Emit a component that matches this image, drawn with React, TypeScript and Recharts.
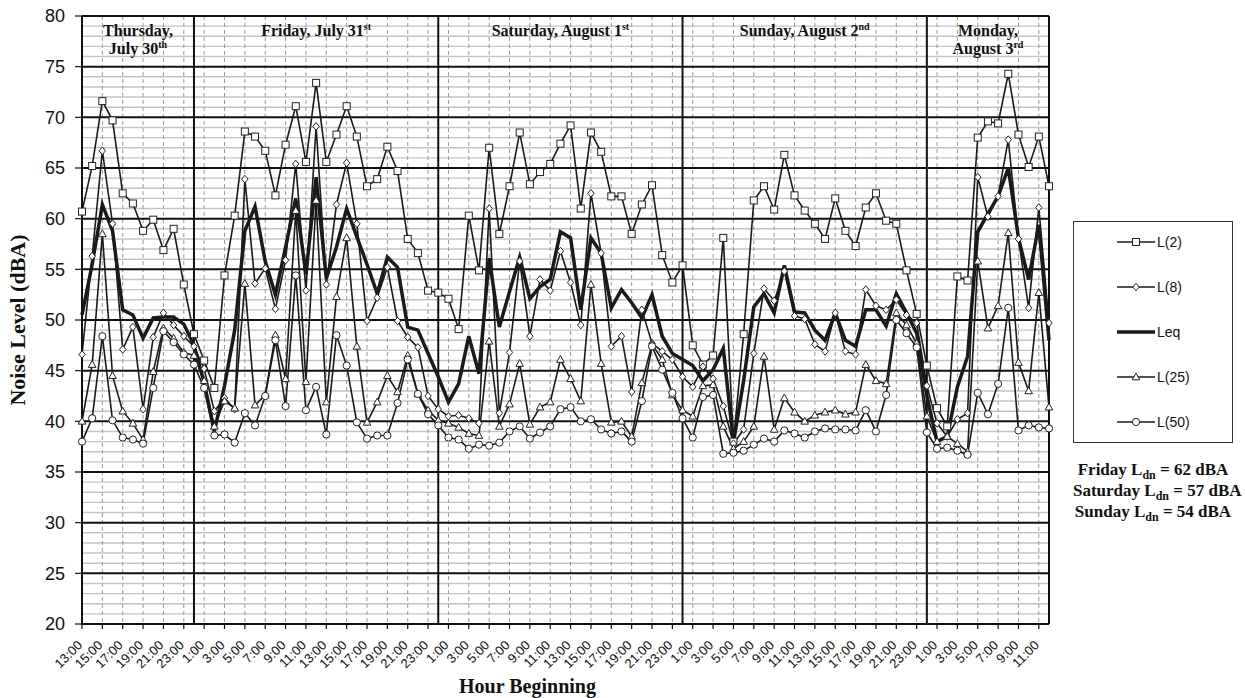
import React from 'react';
import { LineChart, Line, XAxis, YAxis, CartesianGrid, ReferenceArea, Legend } from 'recharts';

const DAY_HOURS = [
  '0:00', '1:00', '2:00', '3:00', '4:00', '5:00', '6:00', '7:00', '8:00', '9:00', '10:00', '11:00',
  '12:00', '13:00', '14:00', '15:00', '16:00', '17:00', '18:00', '19:00', '20:00', '21:00', '22:00', '23:00',
];
// Thursday 13:00 through Monday 12:00
const HOURS = [
  ...DAY_HOURS.slice(13),
  ...DAY_HOURS,
  ...DAY_HOURS,
  ...DAY_HOURS,
  ...DAY_HOURS.slice(0, 13),
];

const L2 = [
  60.7, 65.2, 71.6, 69.7, 62.5, 61.5, 58.8, 59.9, 56.9, 59.0, 53.5,
  48.6, 46.0, 43.3, 54.4, 60.3, 68.6, 68.1, 66.7, 62.3, 67.3, 71.1, 65.6, 73.4, 65.6, 68.3, 71.1, 68.1, 63.2, 63.9, 67.1, 64.7, 58.0, 56.6, 52.9,
  52.7, 52.1, 49.1, 60.3, 54.9, 67.0, 58.5, 63.2, 68.5, 63.4, 64.6, 65.4, 67.4, 69.2, 61.0, 68.5, 66.6, 62.2, 62.2, 58.5, 61.4, 63.3, 56.4, 53.7,
  55.4, 47.5, 45.6, 46.5, 58.1, 38.0, 48.6, 61.8, 63.2, 60.9, 66.3, 62.3, 60.8, 59.5, 58.0, 62.0, 58.8, 57.3, 61.1, 62.5, 59.8, 59.5, 54.9, 50.6,
  45.5, 41.3, 39.5, 54.3, 53.9, 68.0, 69.6, 69.4, 74.3, 68.3, 65.1, 68.1, 63.2,
];
const L8 = [
  46.6, 56.3, 66.7, 59.5, 47.1, 49.3, 41.2, 48.3, 50.7, 49.5, 48.4,
  47.4, 45.2, 41.0, 42.3, 41.2, 63.9, 53.6, 55.1, 51.1, 55.9, 65.4, 52.9, 69.1, 53.5, 61.4, 65.5, 59.5, 49.9, 52.2, 55.2, 49.9, 48.3, 47.3, 42.5,
  41.2, 40.5, 40.6, 40.3, 39.8, 61.0, 40.8, 46.8, 55.8, 48.4, 54.0, 52.9, 56.8, 53.7, 49.5, 62.5, 56.6, 47.4, 48.4, 42.9, 51.0, 47.7, 46.9, 46.1,
  44.4, 43.4, 45.4, 44.2, 41.5, 37.8, 39.2, 46.7, 53.1, 51.9, 54.8, 50.4, 50.1, 47.6, 46.9, 50.7, 46.9, 46.6, 53.0, 51.4, 51.0, 52.0, 50.5, 49.7,
  43.5, 39.8, 38.5, 40.2, 40.8, 64.1, 60.2, 62.2, 67.8, 58.0, 51.2, 61.1, 49.7,
];
const LEQ = [
  50.5, 55.5, 61.4, 58.8, 51.0, 50.5, 48.2, 50.2, 50.3, 50.3, 49.6,
  47.5, 43.8, 39.0, 43.5, 49.0, 58.8, 61.2, 55.8, 52.5, 57.2, 62.0, 54.5, 64.1, 54.1, 57.2, 61.0, 58.2, 55.5, 52.6, 56.2, 55.2, 49.3, 49.0, 46.7,
  44.4, 41.9, 43.7, 48.4, 44.7, 56.1, 49.3, 52.8, 56.2, 52.1, 53.3, 54.0, 58.7, 58.1, 51.0, 58.1, 56.6, 51.2, 53.0, 51.7, 50.2, 52.5, 48.4, 46.7,
  46.1, 45.5, 44.0, 45.1, 47.2, 37.9, 44.0, 51.3, 52.6, 50.7, 55.4, 50.8, 50.7, 49.0, 48.0, 50.7, 48.0, 47.4, 51.0, 51.0, 49.4, 52.6, 50.7, 48.7,
  42.5, 38.0, 38.5, 43.4, 46.4, 58.7, 60.5, 62.2, 65.0, 58.1, 54.0, 59.4, 48.0,
];
const L25 = [
  40.0, 45.6, 58.5, 44.5, 41.0, 39.8, 38.2, 44.9, 49.2, 48.2, 46.8,
  46.5, 44.0, 39.5, 42.0, 41.3, 53.6, 41.6, 42.6, 48.5, 44.2, 60.8, 43.9, 61.8, 41.9, 52.3, 58.1, 47.4, 39.9, 41.9, 44.5, 42.9, 46.5, 42.7, 41.1,
  40.1, 39.8, 39.4, 38.8, 38.6, 47.9, 39.5, 41.7, 45.7, 39.7, 41.4, 41.9, 46.1, 44.2, 42.0, 53.5, 45.7, 39.9, 40.0, 38.5, 43.8, 47.6, 46.1, 42.6,
  41.1, 40.5, 43.5, 43.6, 39.5, 37.3, 38.0, 39.5, 46.4, 39.2, 42.3, 40.9, 40.0, 40.6, 40.9, 41.1, 40.7, 40.9, 45.6, 44.0, 43.7, 50.7, 49.5, 47.7,
  40.5, 38.0, 38.5, 37.8, 37.0, 55.8, 49.2, 51.4, 58.6, 45.8, 43.0, 52.7, 41.4,
];
const L50 = [
  38.0, 40.3, 48.4, 40.1, 38.4, 38.2, 37.8, 43.3, 48.9, 47.8, 46.6,
  45.6, 43.3, 38.6, 38.7, 37.9, 40.8, 39.6, 42.5, 48.0, 41.5, 54.4, 41.1, 43.4, 38.7, 48.5, 45.5, 39.9, 38.3, 38.6, 38.6, 41.8, 46.1, 42.7, 40.7,
  39.6, 38.4, 38.2, 37.3, 37.7, 37.6, 37.9, 39.0, 39.5, 38.3, 38.9, 39.5, 41.2, 41.4, 40.0, 40.2, 39.2, 38.8, 39.0, 38.0, 42.0, 47.4, 45.1, 42.8,
  40.3, 38.4, 42.4, 42.6, 36.8, 36.9, 37.1, 37.7, 38.3, 38.0, 39.1, 38.8, 38.4, 39.0, 39.3, 39.2, 39.2, 39.1, 41.1, 39.0, 42.6, 50.0, 48.7, 47.3,
  38.9, 37.3, 37.4, 37.1, 36.7, 42.8, 40.7, 43.7, 51.2, 39.1, 39.6, 39.4, 39.3,
];

const SERIES = [
  { key: 'L2', name: 'L(2)', values: L2, marker: 'square' },
  { key: 'L8', name: 'L(8)', values: L8, marker: 'diamond' },
  { key: 'Leq', name: 'Leq', values: LEQ, marker: null },
  { key: 'L25', name: 'L(25)', values: L25, marker: 'triangle' },
  { key: 'L50', name: 'L(50)', values: L50, marker: 'circle' },
];

const DAYS = [
  { lines: [['Thursday,', ''], ['July 30', 'th']] },
  { lines: [['Friday, July 31', 'st']] },
  { lines: [['Saturday, August 1', 'st']] },
  { lines: [['Sunday, August 2', 'nd']] },
  { lines: [['Monday,', ''], ['August 3', 'rd']] },
];

const LDN = [
  { day: 'Friday', value: 62 },
  { day: 'Saturday', value: 57 },
  { day: 'Sunday', value: 54 },
];

const Y_TICKS = [20, 25, 30, 35, 40, 45, 50, 55, 60, 65, 70, 75, 80];

const data = HOURS.map((h, i) => {
  const row: any = { idx: i, hour: h };
  SERIES.forEach((s) => {
    row[s.key] = s.values[i];
  });
  return row;
});

const LAST = HOURS.length - 1;
const X_TICKS = HOURS.map((_, i) => i).filter((i) => i % 2 === 0);
const MIDNIGHTS = HOURS.map((h, i) => (h === '0:00' ? i : -1)).filter((i) => i > 0);
const DAY_RANGES = [0, ...MIDNIGHTS, LAST].slice(0, -1).map((s, k, arr) => ({
  x1: s,
  x2: k + 1 < arr.length ? arr[k + 1] : LAST,
}));
const Y_ALL = Array.from({ length: 61 }, (_, k) => 20 + k);
const Y_MINOR = Y_ALL.filter((v) => v % 5 !== 0);
const Y_MAJOR = Y_TICKS.filter((v) => v > 20 && v < 80);

const SERIF = '"Liberation Serif", "Times New Roman", serif';
const SANS = '"Liberation Sans", Arial, sans-serif';
const INK = '#1a1a1a';

function Marker({ shape, cx, cy }: { shape: string; cx: number; cy: number }) {
  if (cx == null || cy == null) return null;
  const common = { fill: '#fff', stroke: '#222', strokeWidth: 1 };
  if (shape === 'square') {
    return <rect x={cx - 3.5} y={cy - 3.5} width={7} height={7} {...common} />;
  }
  if (shape === 'diamond') {
    return (
      <polygon
        points={`${cx},${cy - 3.8} ${cx + 3.2},${cy} ${cx},${cy + 3.8} ${cx - 3.2},${cy}`}
        {...common}
      />
    );
  }
  if (shape === 'triangle') {
    return (
      <polygon
        points={`${cx},${cy - 4} ${cx + 3.8},${cy + 2.8} ${cx - 3.8},${cy + 2.8}`}
        {...common}
      />
    );
  }
  return <circle cx={cx} cy={cy} r={3.6} {...common} />;
}

const makeDot = (shape: string) => (p: any) => (
  <Marker key={`${shape}-${p.index}`} shape={shape} cx={p.cx} cy={p.cy} />
);

const XTick = (p: any) => {
  const { x, y, payload } = p;
  return (
    <g transform={`translate(${x + 1},${y + 15})`}>
      <text
        x={0}
        y={0}
        textAnchor="end"
        transform="rotate(-45)"
        fontSize={13}
        fontFamily={SANS}
        fill="#111"
      >
        {HOURS[payload.value]}
      </text>
    </g>
  );
};

const dayLabel = (lines: string[][]) => (p: any) => {
  const vb = p.viewBox || {};
  const cx = vb.x + vb.width / 2;
  return (
    <g>
      {lines.map(([main, sup], k) => (
        <text
          key={k}
          x={cx}
          y={vb.y + 20 + k * 18}
          textAnchor="middle"
          fontFamily={SERIF}
          fontWeight="bold"
          fontSize={16}
          fill="#111"
        >
          {main}
          {sup ? (
            <tspan fontSize={10} dy={-6}>
              {sup}
            </tspan>
          ) : null}
        </text>
      ))}
    </g>
  );
};

const xTitle = (p: any) => {
  const vb = p.viewBox || {};
  return (
    <text
      x={vb.x + vb.width / 2 - 38}
      y={vb.y + vb.height + 19}
      textAnchor="middle"
      fontFamily={SERIF}
      fontWeight="bold"
      fontSize={20}
      fill="#111"
    >
      Hour Beginning
    </text>
  );
};

const yTitle = (p: any) => {
  const vb = p.viewBox || {};
  const x = vb.x + 25;
  const y = vb.y + vb.height / 2;
  return (
    <text
      x={x}
      y={y}
      textAnchor="middle"
      transform={`rotate(-90 ${x} ${y})`}
      fontFamily={SERIF}
      fontWeight="bold"
      fontSize={22}
      fill="#111"
    >
      Noise Level (dBA)
    </text>
  );
};

const MARKER_OF: Record<string, string | null> = {};
const ORDER_OF: Record<string, number> = {};
SERIES.forEach((s, i) => {
  MARKER_OF[s.key] = s.marker;
  ORDER_OF[s.key] = i;
});

const LegendBox = (props: any) => {
  const payload = [...(props.payload || [])].sort(
    (a: any, b: any) => (ORDER_OF[String(a.dataKey)] ?? 0) - (ORDER_OF[String(b.dataKey)] ?? 0),
  );
  return (
    <div style={{ width: 160 }}>
      <div
        style={{
          position: 'relative',
          width: 160,
          height: 222,
          border: '1.3px solid #333',
          boxSizing: 'border-box',
          background: '#fff',
        }}
      >
        {payload.map((e: any, k: number) => {
          const key = String(e.dataKey);
          const m = MARKER_OF[key];
          return (
            <div
              key={key}
              style={{
                position: 'absolute',
                left: 42,
                top: 20 + k * 45 - 10,
                height: 20,
                display: 'flex',
                alignItems: 'center',
              }}
            >
              <svg width={40} height={20} style={{ display: 'block' }}>
                <line
                  x1={1}
                  y1={10}
                  x2={39}
                  y2={10}
                  stroke={INK}
                  strokeWidth={key === 'Leq' ? 3.5 : 1.6}
                />
                {m ? <Marker shape={m} cx={20} cy={10} /> : null}
              </svg>
              <span style={{ marginLeft: 1, font: `14px ${SANS}`, color: '#111' }}>{e.value}</span>
            </div>
          );
        })}
      </div>
      <div
        style={{
          marginTop: 17,
          textAlign: 'center',
          font: `bold 17px ${SERIF}`,
          lineHeight: '19px',
          color: '#111',
          whiteSpace: 'nowrap',
        }}
      >
        {LDN.map((d) => (
          <div key={d.day}>
            {d.day} L
            <span style={{ fontSize: 12, position: 'relative', top: 4 }}>dn</span> = {d.value} dBA
          </div>
        ))}
      </div>
    </div>
  );
};

export default function App() {
  return (
    <div style={{ position: 'absolute', left: 0, top: 0, width: 1245, height: 698, background: '#fff' }}>
      <LineChart
        width={1245}
        height={698}
        data={data}
        margin={{ top: 16, right: 196, bottom: 24, left: 0 }}
        style={{ fontFamily: SANS }}
      >
        <CartesianGrid
          vertical={false}
          horizontalValues={Y_MINOR}
          stroke="#c4c4c4"
          strokeWidth={1.4}
        />
        <CartesianGrid
          horizontal={false}
          verticalValues={X_TICKS}
          stroke="#9a9a9a"
          strokeDasharray="4 3"
          strokeWidth={1}
        />
        <CartesianGrid vertical={false} horizontalValues={Y_MAJOR} stroke="#111" strokeWidth={2} />
        <CartesianGrid horizontal={false} verticalValues={MIDNIGHTS} stroke="#111" strokeWidth={2} />
        <CartesianGrid horizontalValues={[20, 80]} verticalValues={[0, LAST]} stroke="#111" strokeWidth={2} />
        <XAxis
          type="number"
          dataKey="idx"
          domain={[0, LAST]}
          ticks={X_TICKS}
          interval={0}
          height={50}
          tick={<XTick />}
          tickSize={5}
          tickMargin={2}
          axisLine={{ stroke: '#111', strokeWidth: 2 }}
          tickLine={{ stroke: '#111', strokeWidth: 1.2 }}
          label={xTitle}
        />
        <YAxis
          type="number"
          domain={[20, 80]}
          ticks={Y_TICKS}
          interval={0}
          width={82}
          tickSize={7}
          tickMargin={10}
          tick={{ fontSize: 18, fill: '#111', fontFamily: SANS }}
          axisLine={{ stroke: '#111', strokeWidth: 2 }}
          tickLine={{ stroke: '#111', strokeWidth: 1.2 }}
          label={yTitle}
        />
        {DAY_RANGES.map((r, k) => (
          <ReferenceArea
            key={`day-${k}`}
            x1={r.x1}
            x2={r.x2}
            fill="none"
            fillOpacity={0}
            stroke="none"
            label={dayLabel(DAYS[k].lines)}
          />
        ))}
        {SERIES.map((s) => (
          <Line
            key={s.key}
            type="linear"
            dataKey={s.key}
            name={s.name}
            stroke={INK}
            strokeWidth={s.key === 'Leq' ? 3.5 : 1.6}
            dot={s.marker ? makeDot(s.marker) : false}
            activeDot={false}
            isAnimationActive={false}
          />
        ))}
        <Legend
          layout="vertical"
          align="center"
          verticalAlign="middle"
          itemSorter={null as any}
          content={<LegendBox />}
          wrapperStyle={{ left: 1073, top: 221, width: 160, height: 'auto' }}
        />
      </LineChart>
    </div>
  );
}
